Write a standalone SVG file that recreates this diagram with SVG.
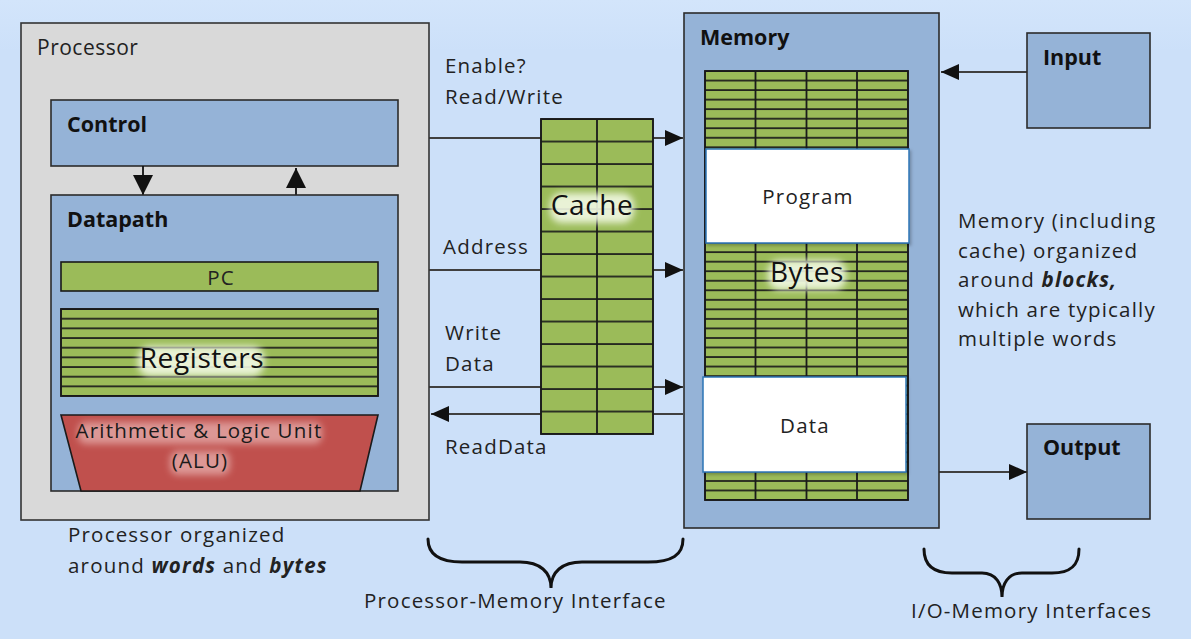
<svg xmlns="http://www.w3.org/2000/svg" width="1191" height="639" viewBox="0 0 1191 639">
<style>
  .lbl { font-family: "Open Sans", "Liberation Sans", sans-serif; font-size: 20.5px; letter-spacing: 1.2px; fill: #222; }
  .bold { font-family: "Open Sans", "Liberation Sans", sans-serif; font-size: 21.5px; font-weight: bold; fill: #111; }
  .big { font-family: "Open Sans", "Liberation Sans", sans-serif; font-size: 28px; letter-spacing: 0.6px; fill: #111; }
  .halo { fill: #f2f9e4; opacity: 0.9; }
  .halored { fill: #f4d2d0; opacity: 0.55; }
  .redtxt { fill: #1a1a1a; }
  .blue { fill: #95b3d7; stroke: #2b2b2b; stroke-width: 1.6; }
  .green { fill: #9bbb59; stroke: #1a1a1a; stroke-width: 1.6; }
  .wire { stroke: #404040; stroke-width: 1.8; fill: none; }
  .brace { stroke: #111; stroke-width: 3; fill: none; stroke-linecap: round; }
  .white { fill: #ffffff; stroke: #2e75b6; stroke-width: 1.5; }
</style>
<defs>
  <linearGradient id="bg" x1="0" y1="0" x2="0" y2="1">
    <stop offset="0" stop-color="#d3e5fb"/>
    <stop offset="0.08" stop-color="#cce0f9"/>
    <stop offset="1" stop-color="#cce0f9"/>
  </linearGradient>
  <marker id="ah" viewBox="0 0 18 16" refX="18" refY="8" markerWidth="18" markerHeight="16" markerUnits="userSpaceOnUse" orient="auto">
    <path d="M0,0 L18,8 L0,16 Z" fill="#111"/>
  </marker>
  <marker id="ahBig" viewBox="0 0 20 20" refX="20" refY="10" markerWidth="20" markerHeight="20" markerUnits="userSpaceOnUse" orient="auto">
    <path d="M0,0 L20,10 L0,20 Z" fill="#111"/>
  </marker>
  <pattern id="regRows" x="0" y="309" width="10" height="9.667" patternUnits="userSpaceOnUse">
    <rect x="0" y="-0.8" width="10" height="1.7" fill="#1a1a1a"/>
    <rect x="0" y="8.867" width="10" height="1.7" fill="#1a1a1a"/>
  </pattern>
  <pattern id="cacheRows" x="0" y="119" width="10" height="22.5" patternUnits="userSpaceOnUse">
    <rect x="0" y="-0.8" width="10" height="1.7" fill="#1a1a1a"/>
    <rect x="0" y="21.7" width="10" height="1.7" fill="#1a1a1a"/>
  </pattern>
  <pattern id="memRows" x="0" y="71" width="10" height="9.533" patternUnits="userSpaceOnUse">
    <rect x="0" y="-0.8" width="10" height="1.7" fill="#1a1a1a"/>
    <rect x="0" y="8.733" width="10" height="1.7" fill="#1a1a1a"/>
  </pattern>
  <filter id="soft" x="-30%" y="-60%" width="160%" height="220%">
    <feGaussianBlur stdDeviation="3.5"/>
  </filter>
  <filter id="shadow" x="-5%" y="-5%" width="110%" height="115%">
    <feDropShadow dx="1.5" dy="2" stdDeviation="1.5" flood-color="#000" flood-opacity="0.25"/>
  </filter>
</defs>

<rect x="0" y="0" width="1191" height="639" fill="url(#bg)"/>

<!-- Connectors -->
<g id="connectors">
  <line class="wire" x1="429" y1="138" x2="683" y2="138" marker-end="url(#ah)"/>
  <line class="wire" x1="429" y1="270" x2="683" y2="270" marker-end="url(#ah)"/>
  <line class="wire" x1="429" y1="387" x2="683" y2="387" marker-end="url(#ah)"/>
  <line class="wire" x1="683" y1="414" x2="431" y2="414" marker-end="url(#ah)"/>
  <line class="wire" x1="1027" y1="72" x2="941" y2="72" marker-end="url(#ah)"/>
  <line class="wire" x1="939" y1="472" x2="1027" y2="472" marker-end="url(#ah)"/>
</g>

<!-- Processor -->
<g id="processor">
  <rect x="21" y="23" width="408" height="497" fill="#d9d9d9" stroke="#333" stroke-width="1.6"/>
  <text class="lbl" x="37" y="55" style="font-size:21px;letter-spacing:0.5px">Processor</text>
</g>

<g id="control">
  <rect class="blue" x="51" y="100" width="347" height="66"/>
  <text class="bold" x="67" y="132">Control</text>
</g>

<g id="control-datapath-arrows">
  <line class="wire" x1="143" y1="166" x2="143" y2="195" marker-end="url(#ahBig)" style="stroke:#111"/>
  <line class="wire" x1="296" y1="195" x2="296" y2="168" marker-end="url(#ahBig)" style="stroke:#111"/>
</g>

<g id="datapath">
  <rect class="blue" x="51" y="195" width="347" height="296"/>
  <text class="bold" x="67" y="227">Datapath</text>
</g>

<g id="pc">
  <rect class="green" x="61" y="262" width="317" height="29"/>
  <text class="lbl" x="221" y="285" text-anchor="middle">PC</text>
</g>

<g id="registers">
  <rect class="green" x="61" y="309" width="317" height="87"/>
  <rect x="61" y="309" width="317" height="87" fill="url(#regRows)"/>
  <rect x="61" y="309" width="317" height="87" fill="none" stroke="#1a1a1a" stroke-width="1.6"/>
  <rect class="halo" x="138" y="346" width="126" height="30" rx="12" filter="url(#soft)"/>
  <text class="big" x="202" y="368" text-anchor="middle">Registers</text>
</g>

<g id="alu">
  <path d="M61,415 L378,415 L360,491 L81,491 Z" fill="#c0504d" stroke="#1a1a1a" stroke-width="1.6"/>
  <rect class="halored" x="78" y="422" width="244" height="22" rx="8" filter="url(#soft)"/>
  <rect class="halored" x="170" y="451" width="60" height="24" rx="8" filter="url(#soft)"/>
  <text class="lbl redtxt" x="199" y="438" text-anchor="middle">Arithmetic &amp; Logic Unit</text>
  <text class="lbl redtxt" x="200" y="468" text-anchor="middle">(ALU)</text>
</g>

<g id="processor-note">
  <text class="lbl" x="68" y="542">Processor organized</text>
  <text class="lbl" x="68" y="573">around <tspan font-weight="bold" font-style="italic">words</tspan> and <tspan font-weight="bold" font-style="italic">bytes</tspan></text>
</g>

<!-- Bus labels -->
<g id="bus-labels">
  <text class="lbl" x="445" y="73">Enable?</text>
  <text class="lbl" x="445" y="104">Read/Write</text>
  <text class="lbl" x="443" y="254">Address</text>
  <text class="lbl" x="445" y="340">Write</text>
  <text class="lbl" x="445" y="371">Data</text>
  <text class="lbl" x="445" y="454">ReadData</text>
</g>

<!-- Cache -->
<g id="cache">
  <rect class="green" x="541" y="119" width="112" height="315"/>
  <rect x="541" y="119" width="112" height="315" fill="url(#cacheRows)"/>
  <line x1="597" y1="119" x2="597" y2="434" stroke="#1a1a1a" stroke-width="1.8"/>
  <rect x="541" y="119" width="112" height="315" fill="none" stroke="#1a1a1a" stroke-width="1.6"/>
  <rect class="halo" x="550" y="193" width="84" height="30" rx="12" filter="url(#soft)"/>
  <text class="big" x="592" y="215" text-anchor="middle">Cache</text>
</g>

<!-- Memory -->
<g id="memory">
  <rect class="blue" x="684" y="13" width="255" height="515"/>
  <text class="bold" x="700" y="45">Memory</text>
  <rect class="green" x="705" y="71" width="203" height="429"/>
  <rect x="705" y="71" width="203" height="429" fill="url(#memRows)"/>
  <line x1="755.5" y1="71" x2="755.5" y2="500" stroke="#1a1a1a" stroke-width="1.8"/>
  <line x1="806.5" y1="71" x2="806.5" y2="500" stroke="#1a1a1a" stroke-width="1.8"/>
  <line x1="857" y1="71" x2="857" y2="500" stroke="#1a1a1a" stroke-width="1.8"/>
  <rect x="705" y="71" width="203" height="429" fill="none" stroke="#1a1a1a" stroke-width="1.6"/>
  <rect class="halo" x="768" y="260" width="78" height="30" rx="12" filter="url(#soft)"/>
  <text class="big" x="807" y="282" text-anchor="middle">Bytes</text>
</g>

<g id="program">
  <rect class="white" x="706" y="149" width="203" height="94" filter="url(#shadow)"/>
  <text class="lbl" x="808" y="204" text-anchor="middle">Program</text>
</g>

<g id="data">
  <rect class="white" x="703" y="377" width="203" height="95" filter="url(#shadow)"/>
  <text class="lbl" x="805" y="433" text-anchor="middle">Data</text>
</g>

<!-- IO -->
<g id="input">
  <rect class="blue" x="1027" y="33" width="123" height="95"/>
  <text class="bold" x="1043" y="65">Input</text>
</g>

<g id="output">
  <rect class="blue" x="1027" y="424" width="123" height="95"/>
  <text class="bold" x="1043" y="455">Output</text>
</g>

<g id="memory-note">
  <text class="lbl" x="958" y="228">Memory (including</text>
  <text class="lbl" x="958" y="257.5">cache) organized</text>
  <text class="lbl" x="958" y="287">around <tspan font-weight="bold" font-style="italic">blocks,</tspan></text>
  <text class="lbl" x="958" y="316.5">which are typically</text>
  <text class="lbl" x="958" y="346">multiple words</text>
</g>

<!-- Braces -->
<g id="pm-interface">
  <path class="brace" d="M428,539 C428,555 440,562 462,562 L520,562 C540,562 551,572 551,588 C551,572 562,562 582,562 L648,562 C672,562 683,555 683,539"/>
  <text class="lbl" x="364" y="608">Processor-Memory Interface</text>
</g>

<g id="io-interface">
  <path class="brace" d="M924,549 C924,566 934,573 952,573 L982,573 C996,573 1002,584 1002,597 C1002,584 1008,573 1022,573 L1052,573 C1070,573 1079,566 1079,549"/>
  <text class="lbl" x="911" y="618">I/O-Memory Interfaces</text>
</g>
</svg>
